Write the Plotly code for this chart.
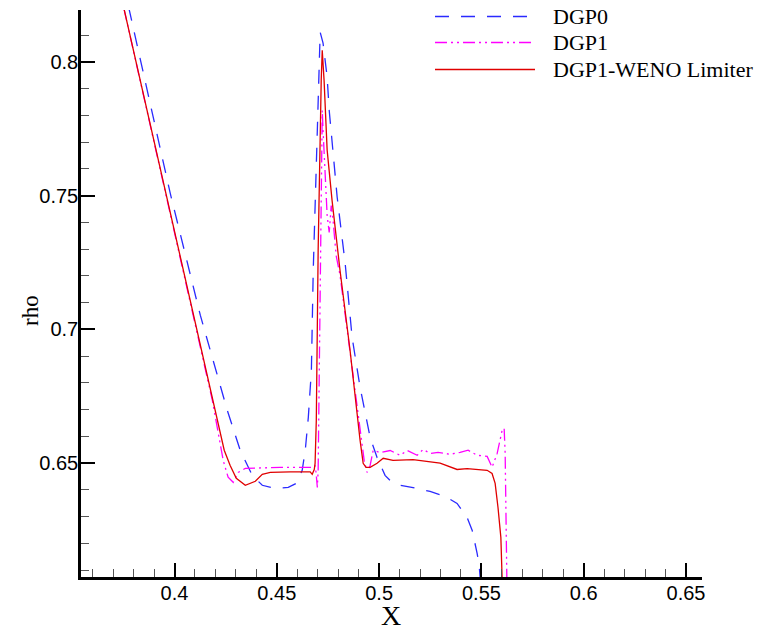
import plotly.graph_objects as go

# Density profiles near the contact / shock region
x_dgp0 = [0.3748, 0.3779, 0.3979, 0.4126, 0.4258, 0.4321, 0.4380, 0.4429, 0.4492, 0.4556,
          0.4595, 0.4624, 0.4639, 0.4654, 0.4669, 0.4678, 0.4688, 0.4698, 0.4703, 0.4712,
          0.4726, 0.4746, 0.4756, 0.4770, 0.4795, 0.4834, 0.4868, 0.4907, 0.4956, 0.4990,
          0.5029, 0.5054, 0.5103, 0.5186, 0.5249, 0.5323, 0.5381, 0.5430, 0.5455, 0.5479,
          0.5489, 0.5499]
rho_dgp0 = [0.8300, 0.8194, 0.7509, 0.7053, 0.6697, 0.6548, 0.6454, 0.6417, 0.6405, 0.6409,
            0.6424, 0.6473, 0.6548, 0.6671, 0.6847, 0.7221, 0.7494, 0.7670, 0.7894, 0.8111,
            0.8070, 0.7943, 0.7819, 0.7707, 0.7494, 0.7247, 0.6970, 0.6783, 0.6596, 0.6521,
            0.6454, 0.6435, 0.6417, 0.6405, 0.6394, 0.6375, 0.6349, 0.6297, 0.6248, 0.6162,
            0.6117, 0.6023]

x_dgp1 = [0.3723, 0.3959, 0.4185, 0.4238, 0.4262, 0.4287, 0.4311, 0.4346, 0.4517, 0.4678,
          0.4688, 0.4693, 0.4698, 0.4702, 0.4707, 0.4712, 0.4717, 0.4722, 0.4726, 0.4736,
          0.4746, 0.4756, 0.4766, 0.4775, 0.4790, 0.4809, 0.4858, 0.4907, 0.4927, 0.4941,
          0.4956, 0.4971, 0.5005, 0.5054, 0.5103, 0.5137, 0.5186, 0.5215, 0.5249, 0.5288,
          0.5347, 0.5396, 0.5435, 0.5479, 0.5528, 0.5552, 0.5577, 0.5601, 0.5611, 0.5616,
          0.5621, 0.5626, 0.5627]
rho_dgp1 = [0.8300, 0.7500, 0.6734, 0.6510, 0.6447, 0.6428, 0.6465, 0.6480, 0.6484, 0.6484,
            0.6491, 0.6454, 0.6409, 0.6473, 0.6809, 0.7295, 0.7669, 0.7819, 0.7744, 0.7594,
            0.7426, 0.7362, 0.7463, 0.7407, 0.7276, 0.7202, 0.6921, 0.6622, 0.6510, 0.6465,
            0.6491, 0.6548, 0.6539, 0.6547, 0.6529, 0.6547, 0.6529, 0.6551, 0.6536, 0.6540,
            0.6533, 0.6540, 0.6548, 0.6529, 0.6525, 0.6484, 0.6536, 0.6622, 0.6630, 0.6536,
            0.6286, 0.6072, 0.5910]

x_weno = [0.3723, 0.3959, 0.4185, 0.4243, 0.4272, 0.4302, 0.4346, 0.4395, 0.4429, 0.4468,
          0.4566, 0.4639, 0.4663, 0.4673, 0.4683, 0.4687, 0.4693, 0.4702, 0.4707, 0.4717,
          0.4722, 0.4731, 0.4746, 0.4770, 0.4809, 0.4858, 0.4907, 0.4922, 0.4936, 0.4956,
          0.4990, 0.5020, 0.5068, 0.5166, 0.5298, 0.5381, 0.5430, 0.5528, 0.5552, 0.5567,
          0.5581, 0.5595, 0.5601, 0.5603]
rho_weno = [0.8300, 0.7500, 0.6734, 0.6548, 0.6491, 0.6443, 0.6417, 0.6432, 0.6458, 0.6465,
            0.6467, 0.6469, 0.6467, 0.6458, 0.6476, 0.6499, 0.6660, 0.7295, 0.7557, 0.7931,
            0.8043, 0.7931, 0.7670, 0.7482, 0.7220, 0.6921, 0.6585, 0.6499, 0.6484, 0.6484,
            0.6499, 0.6518, 0.6510, 0.6513, 0.6500, 0.6476, 0.6479, 0.6473, 0.6461, 0.6424,
            0.6334, 0.6222, 0.6072, 0.5910]

series_names = ["DGP0", "DGP1", "DGP1-WENO Limiter"]
series_colors = ["#2a2aff", "#ff00ff", "#e00000"]
series_dash = ["14px,12px", "12px,4px,2px,4px,2px,4px", "solid"]

W, H = 757, 633
ML, MR, MT, MB = 81, 55, 10, 56
PW, PH = W - ML - MR, H - MT - MB


def px(xp):
    return (xp - ML) / PW


def py(yp):
    return (H - MB - yp) / PH


fig = go.Figure()
for xs, ys, name, col, dash in zip([x_dgp0, x_dgp1, x_weno], [rho_dgp0, rho_dgp1, rho_weno],
                                   series_names, series_colors, series_dash):
    fig.add_trace(go.Scatter(x=xs, y=ys, mode="lines", name=name, showlegend=False,
                             line=dict(color=col, width=1.3, dash=dash)))

# Hand-built legend with long line samples
legend_rows = [16.5, 42.5, 69.5]
shapes = []
annotations = []
for yrow, name, col, dash in zip(legend_rows, series_names, series_colors, series_dash):
    shapes.append(dict(type="line", xref="paper", yref="paper",
                       x0=px(435), x1=px(535), y0=py(yrow), y1=py(yrow),
                       line=dict(color=col, width=1.3, dash=dash)))
    annotations.append(dict(text=name, xref="paper", yref="paper", x=px(551), y=py(yrow),
                            xanchor="left", yanchor="middle", showarrow=False,
                            font=dict(family="Liberation Serif", size=22, color="black")))

annotations.append(dict(text="X", xref="paper", yref="paper", x=px(391), y=py(615),
                        xanchor="center", yanchor="middle", showarrow=False,
                        font=dict(family="Liberation Serif", size=28, color="black")))
annotations.append(dict(text="rho", xref="paper", yref="paper", x=px(30), y=py(311),
                        xanchor="center", yanchor="middle", showarrow=False, textangle=-90,
                        font=dict(family="Liberation Serif", size=23, color="black")))

axis_common = dict(showgrid=False, zeroline=False, showline=True, linecolor="black",
                   linewidth=2.5, ticks="inside", ticklen=14, tickwidth=2, tickcolor="black",
                   tick0=0, dtick=0.05, ticklabelstandoff=-4,
                   tickfont=dict(family="Liberation Sans", size=20, color="black"),
                   minor=dict(ticks="inside", ticklen=8, tickwidth=1, tickcolor="#555555",
                              dtick=0.01, tick0=0))

fig.update_layout(
    width=W, height=H,
    margin=dict(l=ML, r=MR, t=MT, b=MB),
    paper_bgcolor="white", plot_bgcolor="white",
    xaxis=dict(range=[0.3543, 0.6578], **axis_common),
    yaxis=dict(range=[0.6074, 0.8194], **axis_common),
    shapes=shapes, annotations=annotations,
)

fig.write_html("out.html")
